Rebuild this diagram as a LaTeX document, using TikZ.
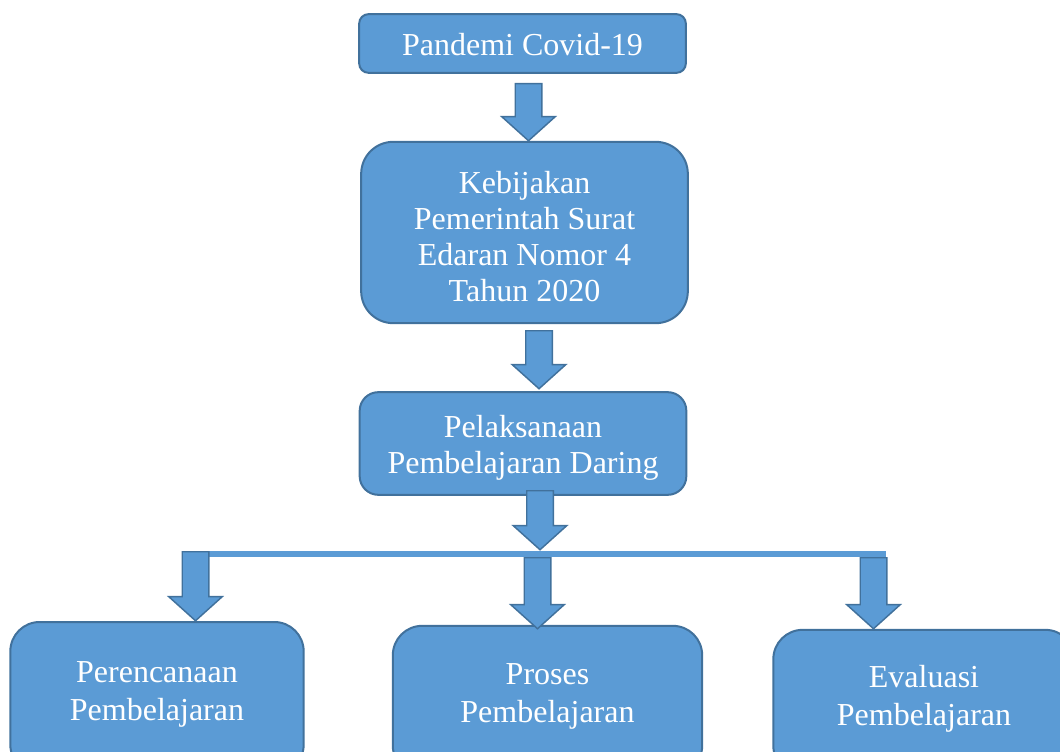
\documentclass[tikz,border=0pt]{standalone}
\usepackage{fontspec}
\setmainfont{Liberation Serif}
\usepackage{xcolor}
\usepackage{tikz}
\usetikzlibrary{arrows.meta}
\usetikzlibrary{positioning, shapes.arrows}
\definecolor{boxfill}{HTML}{5B9BD5}
\definecolor{boxline}{HTML}{41719C}
\tikzset{
step box/.style = { rectangle, draw = boxline, fill = boxfill, line width = 1.5pt, minimum width = 245pt, inner sep = 0pt },
low box/.style = { rectangle, draw = boxline, fill = boxfill, line width = 1.5pt, rounded corners = 22pt, inner sep = 0pt },
box text/.style = { text = white, align = center, font = \fontsize{24}{27}\selectfont, inner sep = 0pt },
low text/.style = { text = white, align = center, font = \fontsize{24}{28.5}\selectfont, inner sep = 0pt },
down arrow/.style = { single arrow, draw = boxline, fill = boxfill, line width = 1.1pt, rotate = -90, anchor = tail, inner xsep = 0pt, inner ysep = 9.4pt, single arrow head extend = 10.1pt, single arrow tip angle = 96, minimum height = #1 },
bar/.style = { draw = boxfill, line width = 4.5pt }
}
\begin{document}
\begin{tikzpicture}[x=0.75pt, y=-0.75pt]
      \useasboundingbox (0,0) rectangle (1060,752);
      % top chain
      \node[step box, rounded corners = 7pt, minimum height = 44pt] (pandemi) at (522.5,43.5) {};
      \node[step box, rounded corners = 24pt, minimum height = 136pt] (kebijakan) at (524.5,232.5) {};
      \node[step box, rounded corners = 14pt, minimum height = 77pt] (pelaksanaan) at (523,443.5) {};
      \node[box text] (pandemi text) at ([yshift=-1pt]pandemi.center) {Pandemi Covid-19};
      \node[box text] (kebijakan text) at ([yshift=-3pt]kebijakan.center) {Kebijakan\\Pemerintah Surat\\Edaran Nomor 4\\Tahun 2020};
      \node[box text] (pelaksanaan text) at ([yshift=-3.5pt]pelaksanaan.center) {Pelaksanaan\\Pembelajaran Daring};
      % bottom row
      \node[low box, minimum width = 220pt, minimum height = 114pt] (perencanaan) at (157,698) {};
      \node[low box, minimum width = 232pt, minimum height = 112pt] (proses) at (547.5,700.5) {};
      \node[low box, minimum width = 226pt, minimum height = 109pt] (evaluasi) at (924,702.5) {};
      \node[low text] (perencanaan text) at ([yshift=3pt]perencanaan.center) {Perencanaan\\Pembelajaran};
      \node[low text] (proses text) at ([yshift=3pt]proses.center) {Proses\\Pembelajaran};
      \node[low text] (evaluasi text) at ([yshift=3pt]evaluasi.center) {Evaluasi\\Pembelajaran};
      % block arrows
      \node[down arrow=42.75pt] (a1) at (528.5,83) {};
      \node[down arrow=43.5pt] (a2) at (539,330) {};
      \node[down arrow=44.25pt] (a3) at (540,490) {};
      \coordinate (bar left) at (183,554);
      \coordinate (bar right) at (886,554);
      \path (bar left) edge[bar] (bar right);
      \node[down arrow=51.75pt] (a4) at (195.5,551) {};
      \node[down arrow=53.25pt] (a5) at (537.5,557) {};
      \node[down arrow=53.25pt] (a6) at (873.5,557) {};
\end{tikzpicture}
\end{document}
